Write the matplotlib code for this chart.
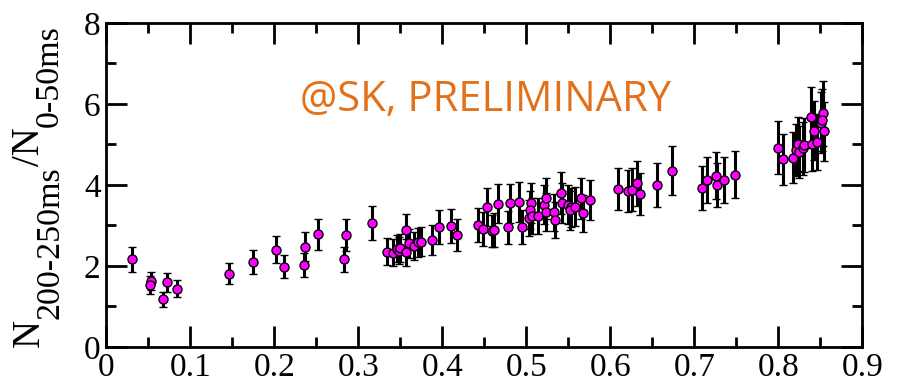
import numpy as np
import matplotlib
matplotlib.use("Agg")
import matplotlib.pyplot as plt
from matplotlib.transforms import IdentityTransform

plt.rcParams['font.family'] = 'Liberation Serif'

# ratio of late (200-250 ms) to early (0-50 ms) event counts
x = [0.031, 0.053, 0.052, 0.072, 0.068, 0.084, 0.146, 0.175, 0.202, 0.212,
     0.237, 0.236, 0.252, 0.285, 0.283, 0.317,
     0.334, 0.341, 0.346, 0.348, 0.350, 0.357, 0.357, 0.360, 0.366, 0.371,
     0.375, 0.388, 0.396, 0.410, 0.418,
     0.443, 0.448, 0.453, 0.459, 0.462, 0.467, 0.478, 0.481, 0.491, 0.495,
     0.506, 0.504, 0.503, 0.507, 0.514, 0.521, 0.524, 0.523, 0.533, 0.534,
     0.541, 0.543, 0.550, 0.553, 0.552, 0.558, 0.565, 0.568, 0.576,
     0.609, 0.621, 0.626, 0.632, 0.635, 0.656, 0.674, 0.709, 0.715, 0.726,
     0.727, 0.735, 0.748,
     0.800, 0.806, 0.818, 0.821, 0.824, 0.825, 0.829, 0.831, 0.839, 0.840,
     0.843, 0.846, 0.851, 0.853, 0.852, 0.855]
ratio = [2.17, 1.63, 1.53, 1.60, 1.18, 1.44, 1.81, 2.10, 2.40, 1.98,
         2.48, 2.02, 2.78, 2.77, 2.17, 3.06,
         2.35, 2.33, 2.43, 2.38, 2.45, 2.89, 2.34, 2.56, 2.49, 2.58,
         2.60, 2.64, 2.96, 2.98, 2.77,
         3.02, 2.91, 3.46, 2.87, 2.89, 3.54, 2.95, 3.55, 3.58, 2.97,
         3.56, 3.38, 3.18, 3.24, 3.23, 3.51, 3.67, 3.33, 3.32, 3.14,
         3.81, 3.55, 3.51, 3.45, 3.37, 3.46, 3.67, 3.30, 3.63,
         3.90, 3.84, 3.88, 4.04, 3.78, 4.00, 4.35, 3.93, 4.12, 4.23,
         4.00, 4.12, 4.25,
         4.92, 4.63, 4.67, 4.86, 5.01, 4.81, 4.90, 4.98, 5.67, 5.02,
         5.34, 5.06, 5.54, 5.77, 5.60, 5.32]
err = [0.31, 0.22, 0.22, 0.23, 0.19, 0.21, 0.26, 0.29, 0.33, 0.28,
       0.35, 0.30, 0.39, 0.39, 0.31, 0.43,
       0.33, 0.33, 0.34, 0.34, 0.34, 0.40, 0.33, 0.36, 0.35, 0.36,
       0.36, 0.37, 0.41, 0.42, 0.39,
       0.42, 0.41, 0.47, 0.40, 0.41, 0.48, 0.41, 0.48, 0.49, 0.42,
       0.49, 0.47, 0.44, 0.45, 0.45, 0.48, 0.50, 0.46, 0.46, 0.44,
       0.52, 0.49, 0.48, 0.48, 0.47, 0.48, 0.50, 0.46, 0.50,
       0.53, 0.52, 0.53, 0.55, 0.52, 0.54, 0.60, 0.54, 0.56, 0.58,
       0.55, 0.56, 0.58,
       0.65, 0.62, 0.63, 0.65, 0.67, 0.65, 0.66, 0.67, 0.75, 0.68,
       0.72, 0.68, 0.75, 0.80, 0.76, 0.72]

xticks = [0, 0.1, 0.2, 0.3, 0.4, 0.5, 0.6, 0.7, 0.8, 0.9]
xticklabels = ['0', '0.1', '0.2', '0.3', '0.4', '0.5', '0.6', '0.7', '0.8', '0.9']
yticks = [0, 2, 4, 6, 8]
yticklabels = ['0', '2', '4', '6', '8']

# y label pieces: (text, fontsize, is_subscript)
ylabel_parts = [('N', 28, False), ('200-250ms', 24.5, True),
                ('/N', 28, False), ('0-50ms', 24.5, True)]

fig = plt.figure(figsize=(9, 3.91), dpi=100)
ax = fig.add_axes([0.118, 0.1125, 0.840, 0.829])

ax.errorbar(x, ratio, yerr=err, fmt='o', color='black', ecolor='black',
            elinewidth=2.2, capsize=2.8, capthick=2.4,
            markerfacecolor='#ff00ff', markeredgecolor='black',
            markeredgewidth=1.0, markersize=6.5, zorder=3)

ax.set_xlim(0, 0.9)
ax.set_ylim(0, 8)
ax.set_xticks(xticks, xticklabels)
ax.set_xticks(np.arange(0.05, 0.9, 0.1), minor=True)
ax.set_yticks(yticks, yticklabels)
ax.set_yticks([1, 3, 5, 7], minor=True)

ax.tick_params(which='both', direction='in', top=True, right=True, width=2)
ax.tick_params(which='major', length=15, labelsize=24)
ax.tick_params(axis='x', which='major', pad=4)
ax.tick_params(axis='y', which='major', pad=4)
ax.tick_params(which='minor', length=7.5)
for sp in ax.spines.values():
    sp.set_linewidth(2)

# rotated y label laid out piece by piece so the subscripts can be sized freely
renderer = fig.canvas.get_renderer()
base_x, sub_drop = 39, 19
texts = []
for s, size, sub in ylabel_parts:
    t = fig.text(base_x + (sub_drop if sub else 0), 0, s, fontsize=size,
                 rotation=90, rotation_mode='anchor', ha='left', va='baseline',
                 transform=IdentityTransform())
    texts.append(t)
lengths = [t.get_window_extent(renderer).height for t in texts]
ypos = 205 - sum(lengths) / 2
for t, h in zip(texts, lengths):
    t.set_y(ypos)
    ypos += h

ax.text(0.452, 6.1, '@SK, PRELIMINARY', color='#e3701a', fontsize=30,
        family='Open Sans', ha='center', va='center')

fig.savefig('out.png', dpi=100)
